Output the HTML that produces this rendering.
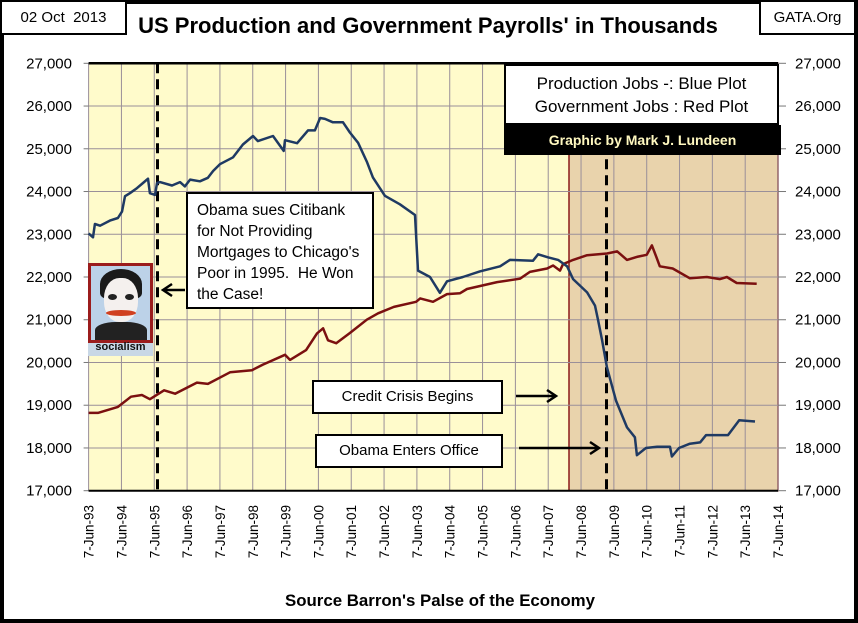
<!DOCTYPE html>
<html><head><meta charset="utf-8"><style>
body{margin:0;background:#fff;font-family:"Liberation Sans",sans-serif;}
#wrap{position:relative;width:858px;height:623px;overflow:hidden;}
.box{position:absolute;background:#fff;border:2px solid #000;box-sizing:border-box;font-family:"Liberation Sans",sans-serif;}
</style></head><body>
<div id="wrap">
<svg id="chart" width="858" height="623" style="position:absolute;left:0;top:0;font-family:'Liberation Sans',sans-serif"></svg>
</div>
<script>
const blueMonths=[0,1.6,2.3,4.2,7.8,10.7,12.2,13.3,15.1,17.7,19.9,21.7,22.4,24.3,25,26.1,30.5,33.4,35.2,37.1,40.7,43.6,45.5,48,52.8,56.4,60.1,61.9,67.4,71.3,71.8,76.2,80.2,82.7,84.6,86.4,89.3,93,95.5,98.5,101.7,103.9,108.3,113.8,119.3,120.4,124.8,128.4,131,136.8,143,150.4,154,162.4,164.3,167.9,171.6,174.9,177.1,182.2,185.1,186.2,187.7,189.5,192.8,196.8,199.7,200.4,203.7,207.8,212.5,213.2,215.8,219.8,223.5,225.7,233.7,237.8,243.6];
const blueValues=[23020,22930,23240,23200,23320,23380,23530,23890,23960,24080,24200,24300,23960,23920,24200,24220,24140,24220,24120,24280,24240,24320,24480,24640,24800,25100,25300,25180,25300,24950,25200,25130,25430,25430,25720,25700,25620,25620,25380,25140,24700,24330,23900,23700,23450,22150,22000,21630,21900,22000,22130,22250,22400,22380,22530,22460,22400,22250,21950,21640,21330,21000,20520,19880,19100,18480,18250,17830,18000,18030,18030,17800,18000,18100,18130,18300,18300,18650,18620];
const redMonths=[0,3.4,10.7,15.5,19.5,22.4,27.6,31.6,39.6,43.6,51.7,59.7,63.7,71.8,73.6,79.5,83.5,85.7,87.5,90.5,95.5,101.7,105.8,111.6,119.7,121.2,125.9,131,135.8,138.3,149.3,157.7,161.3,167.6,169.8,172.3,173.4,177.1,182.2,189.5,193.2,196.8,200.4,204,205.9,207.7,208.8,213.5,219.8,226,230.8,233.3,236.9,244.2];
const redValues=[18820,18820,18960,19200,19240,19140,19350,19270,19530,19500,19770,19820,19950,20180,20060,20290,20680,20800,20520,20450,20690,21000,21150,21300,21420,21500,21420,21600,21620,21720,21880,21960,22120,22200,22270,22150,22300,22400,22510,22550,22600,22400,22470,22520,22740,22440,22250,22200,21970,22000,21950,22000,21860,21840];
const yTicks=[17000,18000,19000,20000,21000,22000,23000,24000,25000,26000,27000];
const xLabels=["7-Jun-93","7-Jun-94","7-Jun-95","7-Jun-96","7-Jun-97","7-Jun-98","7-Jun-99","7-Jun-00","7-Jun-01","7-Jun-02","7-Jun-03","7-Jun-04","7-Jun-05","7-Jun-06","7-Jun-07","7-Jun-08","7-Jun-09","7-Jun-10","7-Jun-11","7-Jun-12","7-Jun-13","7-Jun-14"];
const L=88.6,R=778,T=63.3,B=490.7,yr=32.83;
const X=m=>L+m/12*yr, Y=v=>B-(v-17000)/10000*(B-T);
const svg=document.getElementById('chart'),NS="http://www.w3.org/2000/svg";
function el(t,a,txt){const e=document.createElementNS(NS,t);for(const k in a)e.setAttribute(k,a[k]);if(txt!==undefined)e.textContent=txt;svg.appendChild(e);return e;}
let e=el('rect',{x:2,y:2,width:854,height:619,fill:'#fff',stroke:'#000','stroke-width':4});


e=el('rect',{x:L,y:T,width:R-L,height:B-T,fill:'#FFFBCB'});


e=el('rect',{x:569,y:T,width:R-569,height:B-T,fill:'#E9D3AC',stroke:'#8B1A1A','stroke-width':1.5});


for(let i=0;i<xLabels.length;i++){const x=L+i*yr;
 e=el('line',{x1:x,y1:T,x2:x,y2:B,stroke:'#9a8f99','stroke-width':1});
 
 
 e=el('text',{x:0,y:0,transform:`translate(${x+5},505) rotate(-90)`,'text-anchor':'end','font-size':13.5,fill:'#000'},xLabels[i]);
 
 
}
yTicks.forEach(v=>{const y=Y(v);
 e=el('line',{x1:L,y1:y,x2:R,y2:y,stroke:'#9a8f99','stroke-width':1});
 
 
 el('line',{x1:L-5,y1:y,x2:L,y2:y,stroke:'#777'});el('line',{x1:R,y1:y,x2:R+8,y2:y,stroke:'#777'});
 const s=v.toLocaleString('en-US');
 e=el('text',{x:72,y:y+5,'text-anchor':'end','font-size':15},s);
 
 
 e=el('text',{x:795,y:y+5,'font-size':15},s);
 
 
});
el('line',{x1:L,y1:T,x2:R,y2:T,stroke:'#000','stroke-width':2.5});
el('line',{x1:L,y1:B,x2:R,y2:B,stroke:'#000','stroke-width':2});
[157.5,606.5].forEach(x=>{e=el('line',{x1:x,y1:T,x2:x,y2:B,stroke:'#000','stroke-width':3,'stroke-dasharray':'10,6'});
 
 });
function series(ms,vs,c,n){let d=ms.map((m,i)=>(i?'L':'M')+X(m).toFixed(1)+','+Y(vs[i]).toFixed(1)).join('');
 const p=el('path',{d:d,fill:'none',stroke:c,'stroke-width':2.5,'stroke-linejoin':'round'});
 
 }
series(redMonths,redValues,'#7B1010','government-jobs-line');
series(blueMonths,blueValues,'#1F3A63','production-jobs-line');
function arrow(x1,x2,y,n){el('line',{x1:x1,y1:y,x2:x2,y2:y,stroke:'#000','stroke-width':2.5});
 const d=x2>x1?-1:1;const p=el('path',{d:`M${x2+d*9},${y-6}L${x2},${y}L${x2+d*9},${y+6}`,fill:'none',stroke:'#000','stroke-width':2.5});
 
 }
arrow(185,163,290,'citibank-arrow');arrow(516,556,396,'credit-crisis-arrow');arrow(519,599,448,'obama-office-arrow');
e=el('text',{x:428,y:33,'text-anchor':'middle','font-size':22,'font-weight':'bold'},"US Production and Government Payrolls' in Thousands");


e=el('text',{x:440,y:606,'text-anchor':'middle','font-size':17,'font-weight':'bold',textLength:310,lengthAdjust:'spacingAndGlyphs'},"Source Barron's Palse of the Economy");


</script>
<div class="box" style="left:0;top:0;width:127px;height:35px;font-size:15px;line-height:31px;text-align:center">02 Oct&nbsp; 2013</div>
<div class="box" style="left:759px;top:0;width:97px;height:35px;font-size:15px;line-height:31px;text-align:center">GATA.Org</div>
<div class="box" style="left:504px;top:64px;width:275px;height:61px;font-size:17px;line-height:23px;text-align:center;padding-top:6px">Production Jobs -: Blue Plot<br>Government Jobs : Red Plot</div>
<div style="position:absolute;left:504px;top:125px;width:277px;height:30px;background:#000;color:#FFF8C0;font-weight:bold;font-size:14px;line-height:30px;text-align:center">Graphic by Mark J. Lundeen</div>
<div class="box" style="left:186px;top:192px;width:188px;height:117px;font-size:15.5px;line-height:21px;padding:6px 0 0 9px">Obama sues Citibank<br>for Not Providing<br>Mortgages to Chicago's<br>Poor in 1995.&nbsp; He Won<br>the Case!</div>
<div class="box" style="left:312px;top:380px;width:191px;height:34px;font-size:15px;line-height:30px;text-align:center">Credit Crisis Begins</div>
<div class="box" style="left:315px;top:434px;width:188px;height:34px;font-size:15px;line-height:30px;text-align:center">Obama Enters Office</div>
<div style="position:absolute;left:88px;top:263px;width:65px;height:93px;background:#c9d8e6">
 <div style="position:absolute;left:0;top:0;width:59px;height:74px;border:3px solid #9b1c1c;background:#bcd2e8;overflow:hidden">
  <div style="position:absolute;left:9px;top:3px;width:42px;height:30px;border-radius:50% 50% 20% 20%;background:#1a1a1a"></div>
  <div style="position:absolute;left:13px;top:12px;width:34px;height:44px;border-radius:45%;background:#f4f0ee"></div>
  <div style="position:absolute;left:17px;top:28px;width:9px;height:6px;border-radius:50%;background:#222"></div>
  <div style="position:absolute;left:34px;top:28px;width:9px;height:6px;border-radius:50%;background:#222"></div>
  <div style="position:absolute;left:15px;top:44px;width:30px;height:6px;border-radius:50%;background:#d0401f"></div>
  <div style="position:absolute;left:4px;top:56px;width:52px;height:20px;background:#222;border-radius:40% 40% 0 0"></div>
 </div>
 <div style="position:absolute;left:0;top:78px;width:65px;text-align:center;font-weight:bold;font-size:11px;color:#111">socialism</div>
</div>
</body></html>
